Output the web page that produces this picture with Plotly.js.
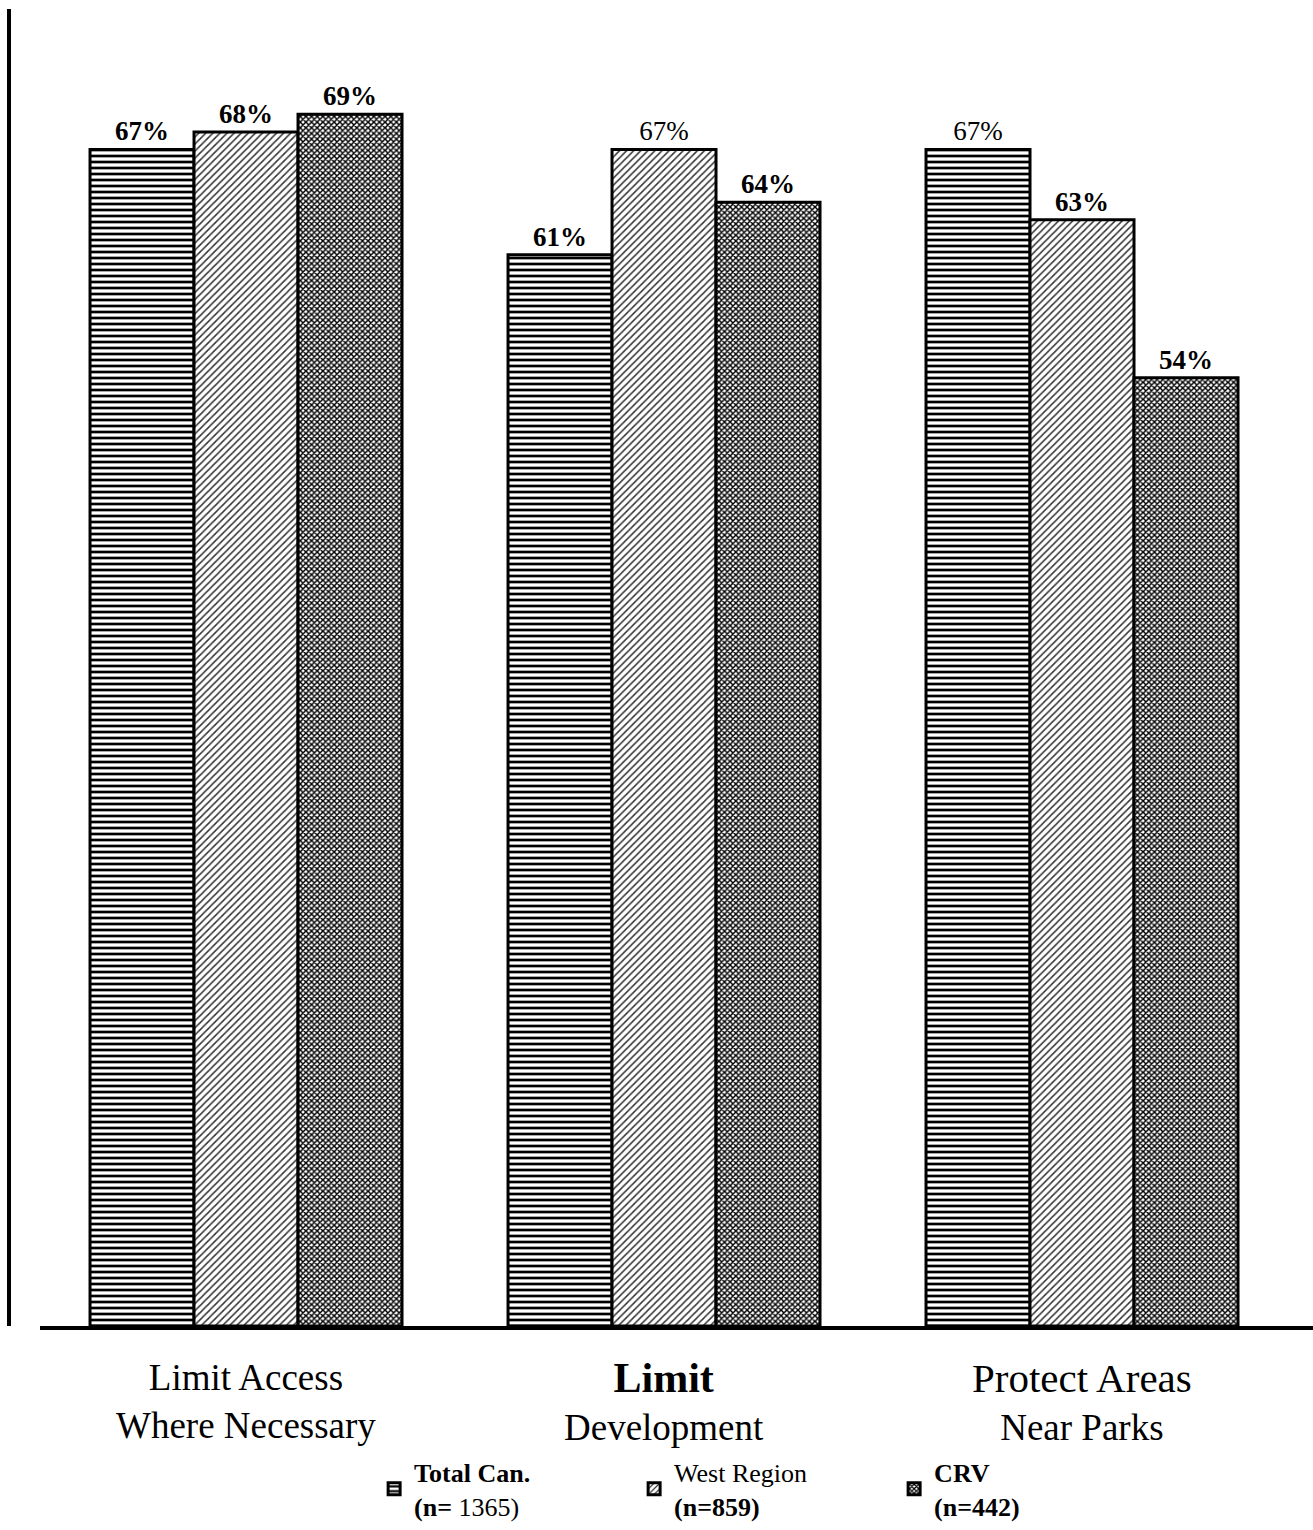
<!DOCTYPE html>
<html>
<head>
<meta charset="utf-8">
<script src="https://cdn.plot.ly/plotly-3.0.1.min.js"></script>
<style>html,body{margin:0;padding:0;background:#fff;}</style>
</head>
<body>
<div id="chart" style="width:1313px;height:1530px;"></div>
<script>
// ---- data ----
const categories = ['Limit Access Where Necessary', 'Limit Development', 'Protect Areas Near Parks'];
const catLine1 = ['Limit Access', '<span style="font-size:42px"><b>Limit</b></span>', '<span style="font-size:41px">Protect Areas</span>'];
const catLine2 = ['Where Necessary', 'Development', 'Near Parks'];
const seriesNames = ['<b>Total Can.</b><br><b>(n=</b> 1365)', 'West Region<br><b>(n=859)</b>', '<b>CRV</b><br><b>(n=442)</b>'];
const totalCan = [67, 61, 67];
const westRegion = [68, 67, 63];
const crv = [69, 64, 54];
// which value labels are printed in bold
const totalBold = [true, true, false];
const westBold = [true, false, true];
const crvBold = [true, true, true];

function labels(vals, bold) {
  return vals.map((v, i) => bold[i] ? '<b>' + v + '%</b>' : v + '%');
}

const serif = 'Liberation Serif, Times New Roman, serif';
const patterns = [
  {shape: '-', size: 6, solidity: 0.45, fgcolor: '#000', bgcolor: '#fff', fillmode: 'replace'},
  {shape: '/', size: 5, solidity: 0.3, fgcolor: '#333', bgcolor: '#fff', fillmode: 'replace'},
  {shape: 'x', size: 4, solidity: 0.6, fgcolor: '#000', bgcolor: '#fff', fillmode: 'replace'}
];
const seriesVals = [totalCan, westRegion, crv];
const seriesBold = [totalBold, westBold, crvBold];

const traces = seriesVals.map((vals, s) => ({
  type: 'bar',
  name: seriesNames[s],
  x: categories,
  y: vals,
  text: labels(vals, seriesBold[s]),
  textposition: 'outside',
  textfont: {family: serif, size: 27, color: '#000'},
  cliponaxis: false,
  hoverinfo: 'skip',
  marker: {color: '#fff', pattern: patterns[s], line: {color: '#000', width: 3}}
}));

const annotations = categories.map((c, i) => ({
  x: c, xref: 'x', y: 0, yref: 'paper', yanchor: 'middle', yshift: -75,
  text: catLine1[i] + '<br>' + catLine2[i], showarrow: false, align: 'center',
  font: {family: serif, size: 37, color: '#000'}
}));

const layout = {
  width: 1313, height: 1530,
  margin: {l: 9, r: 0, t: 9, b: 192},
  paper_bgcolor: '#fff', plot_bgcolor: '#fff',
  barmode: 'group', bargap: 0.2536, bargroupgap: 0,
  showlegend: true,
  legend: {
    orientation: 'h', x: 0.28, xanchor: 'left', y: -0.093, yanchor: 'top',
    font: {family: serif, size: 26, color: '#000'},
    itemwidth: 30, traceorder: 'normal', entrywidth: 215, entrywidthmode: 'pixels'
  },
  xaxis: {
    type: 'category', domain: [0.0238, 1], range: [-0.4928, 2.5526],
    showticklabels: false, ticks: '', showgrid: false, zeroline: false,
    showline: true, linecolor: '#000', linewidth: 4
  },
  yaxis: {
    range: [0, 75], anchor: 'free', position: 0,
    showticklabels: false, ticks: '', showgrid: false, zeroline: false,
    showline: true, linecolor: '#000', linewidth: 4
  },
  annotations: annotations
};

Plotly.newPlot('chart', traces, layout, {staticPlot: true});
</script>
</body>
</html>
